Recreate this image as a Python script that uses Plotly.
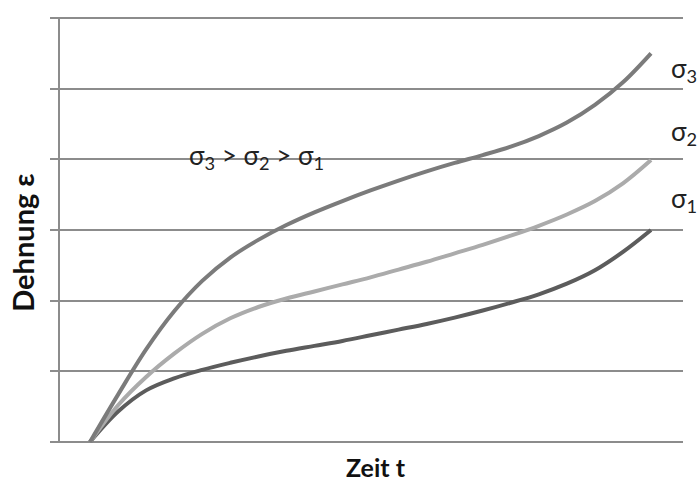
import plotly.graph_objects as go

# Creep curves: strain over time for three stress levels
zeit = [0, 0.5, 1, 1.5, 2, 2.5, 3, 3.5, 4, 4.5, 5, 5.5, 6, 6.5, 7, 7.5, 8, 8.5, 9, 9.5, 10]
dehnung_s3 = [0, 0.67, 1.31, 1.85, 2.28, 2.61, 2.86, 3.07, 3.25, 3.41, 3.56, 3.70, 3.83, 3.95,
              4.06, 4.18, 4.33, 4.52, 4.77, 5.09, 5.50]
dehnung_s2 = [0, 0.52, 0.92, 1.25, 1.53, 1.75, 1.91, 2.03, 2.13, 2.23, 2.33, 2.44, 2.55, 2.67,
              2.79, 2.92, 3.06, 3.22, 3.41, 3.66, 3.99]
dehnung_s1 = [0, 0.43, 0.73, 0.90, 1.02, 1.12, 1.21, 1.29, 1.36, 1.43, 1.51, 1.59, 1.67, 1.76,
              1.86, 1.97, 2.09, 2.24, 2.43, 2.69, 3.00]

FONT = "Lato"
GRID = "#8c8c8c"

fig = go.Figure()
for y, col in [(dehnung_s1, "#5c5c5c"), (dehnung_s2, "#ababab"), (dehnung_s3, "#7b7b7b")]:
    fig.add_trace(go.Scatter(x=zeit, y=y, mode="lines",
                             line=dict(color=col, width=4, shape="spline", smoothing=1.0),
                             showlegend=False, hoverinfo="skip"))

fig.update_layout(
    width=699, height=482,
    margin=dict(l=60, r=16, t=17, b=39),
    plot_bgcolor="white", paper_bgcolor="white",
    font=dict(family=FONT, color="#1a1a1a"),
    xaxis=dict(range=[-0.535, 10.57], showgrid=False, zeroline=False,
               showticklabels=False, ticks="", showline=False),
    yaxis=dict(range=[-0.015, 6.015], dtick=1, showgrid=True, gridcolor=GRID, gridwidth=2,
               zeroline=False, showticklabels=False, ticks="outside", ticklen=8,
               tickcolor=GRID, tickwidth=2, showline=True, linecolor=GRID, linewidth=2),
)

# axis titles
fig.add_annotation(x=0.507, y=-0.056, xref="paper", yref="paper", xanchor="center", yanchor="middle",
                   text="<b>Zeit t</b>", showarrow=False, borderpad=0,
                   font=dict(size=25, family=FONT, color="#111"))
fig.add_annotation(x=-0.0594, y=0.47, xref="paper", yref="paper", xanchor="center", yanchor="middle",
                   text="<b>Dehnung ε</b>", textangle=-90, showarrow=False,
                   font=dict(size=29, family=FONT, color="#111"))

lab = dict(size=26, family=FONT, color="#222")
fig.add_annotation(x=0.978, y=0.877, xref="paper", yref="paper", xanchor="left", yanchor="middle",
                   text="σ<sub>3</sub>", showarrow=False, font=lab)
fig.add_annotation(x=0.978, y=0.729, xref="paper", yref="paper", xanchor="left", yanchor="middle",
                   text="σ<sub>2</sub>", showarrow=False, font=lab)
fig.add_annotation(x=0.978, y=0.571, xref="paper", yref="paper", xanchor="left", yanchor="middle",
                   text="σ<sub>1</sub>", showarrow=False, font=lab)
fig.add_annotation(x=0.315, y=0.672, xref="paper", yref="paper", xanchor="center", yanchor="middle",
                   text="σ<sub>3</sub> > σ<sub>2</sub> > σ<sub>1</sub>", showarrow=False, font=lab)

fig.write_html("out.html")
